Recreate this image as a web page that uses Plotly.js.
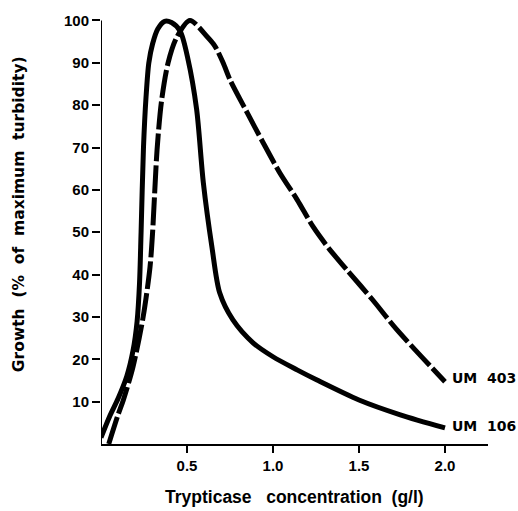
<!DOCTYPE html>
<html>
<head>
<meta charset="utf-8">
<script src="https://cdn.plot.ly/plotly-3.0.1.min.js"></script>
<style>html,body{margin:0;padding:0;background:#fff;}#chart{width:518px;height:511px;}</style>
</head>
<body>
<div id="chart"></div>
<script>
// Trypticase concentration (g/l) vs growth (% of maximum turbidity)
var um106X = [0, 0.05, 0.10, 0.15, 0.186, 0.21, 0.224, 0.233, 0.247, 0.262, 0.278, 0.30, 0.33, 0.37, 0.41, 0.46, 0.506, 0.556, 0.595, 0.645, 0.69, 0.767, 0.884, 1.0, 1.14, 1.256, 1.5, 1.74, 2.0];
var um106Y = [1.5, 6.5, 10.8, 16, 22, 29, 38, 50, 70, 82, 90, 94.5, 98, 99.8, 99.5, 97.5, 90.8, 79, 61.7, 46.5, 35.7, 29.3, 23.9, 20.6, 17.5, 15.1, 10.4, 6.9, 3.8];
var um403X = [0.045, 0.10, 0.13, 0.186, 0.245, 0.285, 0.30, 0.326, 0.352, 0.39, 0.44, 0.517, 0.616, 0.663, 0.71, 0.75, 0.849, 0.942, 1.04, 1.14, 1.233, 1.33, 1.43, 1.58, 1.72, 2.0];
var um403Y = [0, 7, 10.4, 18.2, 30, 41.8, 50, 69.5, 81, 90, 96, 100, 96.2, 93.9, 90, 86, 78.3, 71.2, 64, 57.7, 51.3, 45.9, 41.1, 34, 27, 14.7];
var seriesNames = ["UM&nbsp;&nbsp;106", "UM&nbsp;&nbsp;403"];
var xTickVals = [0.5, 1.0, 1.5, 2.0];
var xTickText = ["0.5", "1.0", "1.5", "2.0"];
var yTickVals = [10, 20, 30, 40, 50, 60, 70, 80, 90, 100];
var yTickText = ["10", "20", "30", "40", "50", "60", "70", "80", "90", "100"];
var xTitle = "Trypticase&nbsp;&nbsp; concentration&nbsp; (g/l)";
var yTitle = "Growth&nbsp; (%&nbsp; of&nbsp; maximum&nbsp; turbidity)";

var fam = "Liberation Sans, Arial, sans-serif";
var famWide = "DejaVu Sans, Verdana, sans-serif";
var traces = [
  {x: um106X, y: um106Y, mode: "lines", name: "UM 106",
   line: {color: "#000", width: 5, shape: "spline", smoothing: 0.8}},
  {x: um403X, y: um403Y, mode: "lines", name: "UM 403",
   line: {color: "#000", width: 5, shape: "spline", smoothing: 0.8, dash: "28px,4px"}}
];
var layout = {
  width: 518, height: 511,
  margin: {l: 101, r: 30, t: 12, b: 67},
  paper_bgcolor: "#fff", plot_bgcolor: "#fff",
  showlegend: false,
  xaxis: {range: [0, 2.25], showgrid: false, zeroline: false, showline: true,
    linecolor: "#000", linewidth: 2, ticks: "outside", ticklen: 7, tickwidth: 2, tickcolor: "#000",
    tickvals: xTickVals, ticktext: xTickText,
    tickfont: {family: fam, size: 15, color: "#000", weight: 700}},
  yaxis: {range: [0, 102], showgrid: false, zeroline: false, showline: false,
    ticks: "outside", ticklen: 8, tickwidth: 2, tickcolor: "#000",
    tickvals: yTickVals, ticktext: yTickText,
    tickfont: {family: fam, size: 15, color: "#000", weight: 700}},
  shapes: [
    {type: "line", xref: "x", yref: "y", x0: 0, x1: 0, y0: 0, y1: 100, line: {color: "#000", width: 2}}
  ],
  annotations: [
    {xref: "paper", yref: "paper", x: 0.5, y: -0.1227, xanchor: "center", yanchor: "middle", showarrow: false,
     text: xTitle, font: {family: fam, size: 17.5, color: "#000", weight: 700}},
    {xref: "paper", yref: "paper", x: -0.212, y: 0.532, xanchor: "center", yanchor: "middle", showarrow: false,
     textangle: -90, text: yTitle, font: {family: famWide, size: 15.5, color: "#000", weight: 700}},
    {xref: "x", yref: "y", x: um403X[um403X.length-1], y: um403Y[um403Y.length-1], xanchor: "left", yanchor: "middle",
     xshift: 5, yshift: 4, showarrow: false, text: seriesNames[1], font: {family: famWide, size: 14, color: "#000", weight: 700}},
    {xref: "x", yref: "y", x: um106X[um106X.length-1], y: um106Y[um106Y.length-1], xanchor: "left", yanchor: "middle",
     xshift: 5, yshift: 2, showarrow: false, text: seriesNames[0], font: {family: famWide, size: 14, color: "#000", weight: 700}}
  ]
};
Plotly.newPlot("chart", traces, layout, {displayModeBar: false, staticPlot: true});
</script>
</body>
</html>
